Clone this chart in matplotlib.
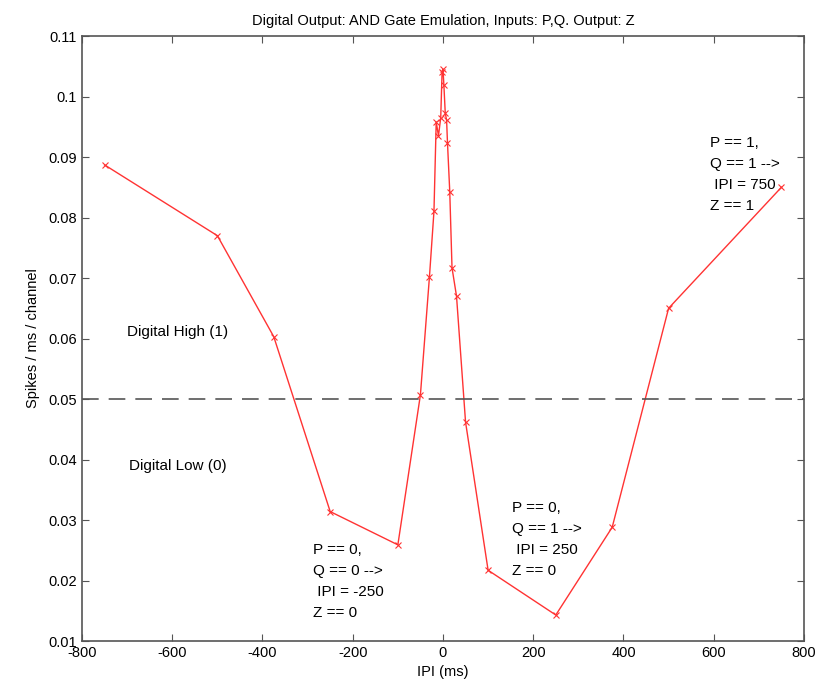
import matplotlib
matplotlib.use('Agg')
import matplotlib.pyplot as plt

plt.rcParams['font.family'] = ['Liberation Sans', 'DejaVu Sans']
plt.rcParams['axes.unicode_minus'] = False

ipi = [-750, -500, -375, -250, -100, -50, -30, -20, -15, -10, -5, -2, 0,
       2, 5, 8, 10, 15, 20, 30, 50, 100, 250, 375, 500, 750]
rate = [0.0887, 0.0770, 0.0603, 0.0314, 0.0259, 0.0507, 0.0702, 0.0810, 0.0958, 0.0935,
        0.0965, 0.1041, 0.1045, 0.1019, 0.0973, 0.0961, 0.0923, 0.0843, 0.0717, 0.0670,
        0.0462, 0.0217, 0.0143, 0.0288, 0.0650, 0.0850]
threshold = 0.05

title = 'Digital Output: AND Gate Emulation, Inputs: P,Q. Output: Z'
notes = [
    (-287, 0.0262, 'P == 0,\nQ == 0 -->\n IPI = -250\nZ == 0'),
    (152, 0.0332, 'P == 0,\nQ == 1 -->\n IPI = 250\nZ == 0'),
    (591, 0.0935, 'P == 1,\nQ == 1 -->\n IPI = 750\nZ == 1'),
]

fig = plt.figure(figsize=(8.25, 6.93), dpi=100)
ax = fig.add_axes([0.0994, 0.075, 0.8751, 0.873])

ax.plot(ipi, rate, color='#ff3333', lw=1, marker='x', ms=4, mew=0.8)
ax.axhline(threshold, color='#555555', lw=1.2, dashes=(10, 6))

ax.text(-700, 0.061, 'Digital High (1)', fontsize=11, va='center')
ax.text(-695, 0.039, 'Digital Low (0)', fontsize=11, va='center')
for x, y, s in notes:
    ax.text(x, y, s, fontsize=11, va='top', ha='left', linespacing=1.65)

ax.set_xlim(-800, 800)
ax.set_ylim(0.01, 0.11)
ax.set_xticks(range(-800, 801, 200))
ax.set_yticks([0.01 * i for i in range(1, 12)])
ax.set_yticklabels(['0.01', '0.02', '0.03', '0.04', '0.05', '0.06', '0.07', '0.08',
                    '0.09', '0.1', '0.11'])
ax.tick_params(direction='in', top=True, right=True, labelsize=10.5, length=5,
               color='#555555')
for sp in ax.spines.values():
    sp.set_color('#555555')
    sp.set_linewidth(1.2)

ax.set_title(title, fontsize=10.5, pad=8)
ax.set_xlabel('IPI (ms)', fontsize=10.5, labelpad=4)
ax.set_ylabel('Spikes / ms / channel', fontsize=10.5, labelpad=6)

fig.savefig('out.png', dpi=100)
